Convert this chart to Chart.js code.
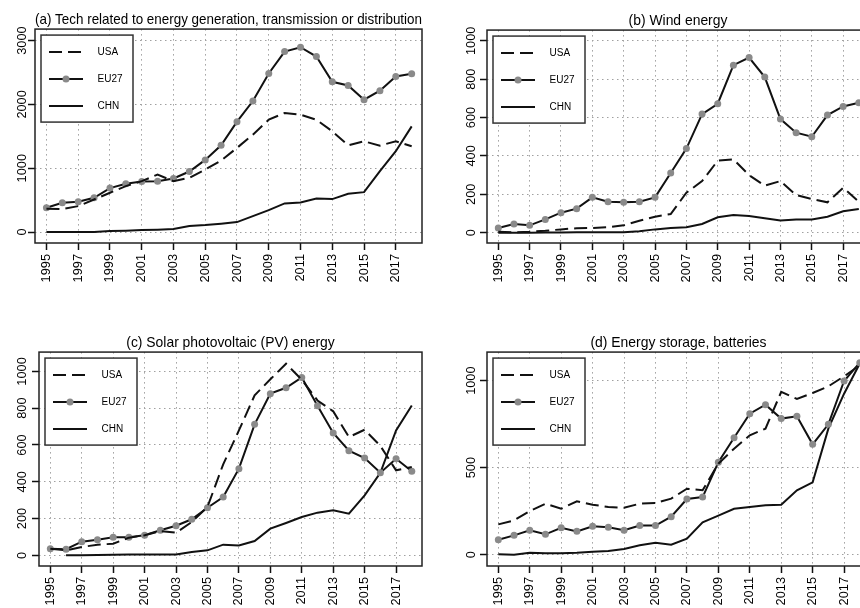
<!DOCTYPE html>
<html>
<head>
<meta charset="utf-8">
<script src="https://cdn.jsdelivr.net/npm/chart.js@4.4.1/dist/chart.umd.min.js"></script>
<style>
  html, body { margin: 0; padding: 0; background: #fff; width: 860px; height: 608px; overflow: hidden; }
  .panel { position: absolute; }
</style>
</head>
<body>
<div class="panel" style="left:0;top:0"><canvas id="panelA" width="430" height="300"></canvas></div>
<div class="panel" style="left:430px;top:0"><canvas id="panelB" width="450" height="300"></canvas></div>
<div class="panel" style="left:0;top:300px"><canvas id="panelC" width="430" height="308"></canvas></div>
<div class="panel" style="left:430px;top:300px"><canvas id="panelD" width="450" height="308"></canvas></div>
<script>
// Patent counts per year, 1995-2018
const years = [1995, 1996, 1997, 1998, 1999, 2000, 2001, 2002, 2003, 2004, 2005, 2006,
               2007, 2008, 2009, 2010, 2011, 2012, 2013, 2014, 2015, 2016, 2017, 2018];
const yearTicks = [1995, 1997, 1999, 2001, 2003, 2005, 2007, 2009, 2011, 2013, 2015, 2017];
const seriesNames = ['USA', 'EU27', 'CHN'];

// (a) Tech related to energy generation, transmission or distribution
const genUSA  = [365, 360, 406, 510, 615, 719, 797, 900, 797, 849, 979, 1120, 1318, 1526, 1760, 1865, 1838, 1760, 1578, 1359, 1422, 1354, 1422, 1344];
const genEU27 = [380, 458, 474, 536, 688, 755, 792, 797, 839, 948, 1130, 1359, 1729, 2052, 2484, 2828, 2896, 2750, 2354, 2297, 2073, 2214, 2438, 2479];
const genCHN  = [0, 0, 0, 0, 15, 20, 30, 36, 47, 94, 109, 130, 156, 250, 344, 448, 464, 526, 516, 599, 625, 953, 1266, 1656];
const genTicks = [0, 1000, 2000, 3000];

// (b) Wind energy
const windUSA  = [5, 2, 5, 10, 17, 23, 24, 28, 38, 62, 83, 97, 208, 269, 375, 382, 300, 245, 269, 196, 175, 158, 234, 161];
const windEU27 = [24, 45, 38, 69, 104, 125, 184, 161, 158, 161, 184, 311, 438, 618, 672, 873, 913, 811, 592, 521, 500, 613, 658, 677];
const windCHN  = [0, 0, 0, 1, 1, 2, 2, 2, 2, 7, 17, 24, 28, 45, 80, 92, 87, 75, 63, 69, 69, 83, 111, 123];
const windTicks = [0, 200, 400, 600, 800, 1000];

// (c) Solar photovoltaic (PV) energy
const pvUSA  = [36, 27, 45, 58, 63, 96, 109, 132, 123, 181, 263, 495, 679, 870, 957, 1042, 955, 842, 783, 643, 683, 595, 462, 480];
const pvEU27 = [36, 33, 74, 85, 98, 98, 109, 136, 161, 196, 259, 317, 471, 712, 879, 911, 967, 813, 665, 569, 529, 449, 525, 457];
const pvCHN  = [null, 0, 1, 2, 3, 4, 5, 5, 5, 18, 27, 58, 53, 78, 145, 176, 208, 232, 245, 226, 326, 449, 679, 815];
const pvTicks = [0, 200, 400, 600, 800, 1000];

// (d) Energy storage, batteries
const batUSA  = [174, 197, 251, 293, 264, 307, 287, 274, 270, 293, 297, 322, 379, 370, 523, 609, 686, 724, 935, 895, 929, 967, 1025, 1088];
const batEU27 = [86, 111, 140, 117, 155, 134, 163, 157, 140, 167, 167, 218, 320, 331, 531, 672, 810, 862, 782, 795, 634, 749, 998, 1103];
const batCHN  = [2, 0, 11, 8, 8, 11, 17, 21, 33, 54, 69, 57, 92, 186, 224, 264, 274, 284, 287, 370, 416, 724, 925, 1098];
const batTicks = [0, 500, 1000];

const FONT = "'Liberation Sans', Arial, Helvetica, sans-serif";
const X_AXIS_H = 50;

// Plot frame plus boxed key in the upper-left corner of the plotting region
const frameAndKey = {
  id: 'frameAndKey',
  afterDraw(chart) {
    const { ctx, chartArea: a } = chart;
    ctx.save();
    ctx.setLineDash([]);
    ctx.strokeStyle = '#222';
    ctx.lineWidth = 1.5;
    ctx.strokeRect(a.left, a.top, a.right - a.left, a.bottom - a.top);

    const bx = a.left + 6, by = a.top + 6, bw = 92, bh = 87;
    ctx.fillStyle = '#fff';
    ctx.fillRect(bx, by, bw, bh);
    ctx.strokeStyle = '#333';
    ctx.strokeRect(bx, by, bw, bh);

    chart.data.datasets.forEach((ds, i) => {
      const y = by + 17 + i * 27;
      ctx.setLineDash(ds.borderDash || []);
      ctx.strokeStyle = ds.borderColor;
      ctx.lineWidth = ds.borderWidth;
      ctx.beginPath();
      ctx.moveTo(bx + 8, y);
      ctx.lineTo(bx + 42, y);
      ctx.stroke();
      ctx.setLineDash([]);
      if (ds.pointRadius > 0) {
        ctx.fillStyle = ds.pointBackgroundColor;
        ctx.beginPath();
        ctx.arc(bx + 25, y, ds.pointRadius, 0, Math.PI * 2);
        ctx.fill();
      }
      ctx.fillStyle = '#000';
      ctx.font = '10px ' + FONT;
      ctx.textAlign = 'left';
      ctx.textBaseline = 'middle';
      ctx.fillText(ds.label, bx + 56.5, y + 0.5);
    });
    ctx.restore();
  }
};

function toPoints(values) {
  return years.map((yr, i) => ({ x: yr, y: values[i] }));
}

function makePanel(id, title, usa, eu, chn, yMin, yMax, yTicks, g) {
  const canvas = document.getElementById(id);
  const w = canvas.width, h = canvas.height;
  const tickFont = { family: FONT, size: 12.8 };
  return new Chart(canvas, {
    type: 'line',
    data: {
      datasets: [
        { label: seriesNames[0], data: toPoints(usa), borderColor: '#111', borderWidth: 2,
          borderDash: [13, 6], pointRadius: 0, tension: 0 },
        { label: seriesNames[1], data: toPoints(eu), borderColor: '#111', borderWidth: 2,
          pointRadius: 3.5, pointBackgroundColor: '#8a8a8a', pointBorderColor: '#8a8a8a', pointBorderWidth: 0, tension: 0 },
        { label: seriesNames[2], data: toPoints(chn), borderColor: '#111', borderWidth: 2,
          pointRadius: 0, tension: 0, spanGaps: false }
      ]
    },
    options: {
      responsive: false,
      animation: false,
      events: [],
      layout: { padding: { left: 0, right: w - g.right, top: g.top - 9 - 8.3, bottom: h - g.bottom - X_AXIS_H } },
      plugins: {
        legend: { display: false },
        tooltip: { enabled: false },
        title: {
          display: true, text: title, color: '#000', fullSize: false, align: 'center',
          font: { family: FONT, size: 13.9, weight: 'normal', lineHeight: 1.2 },
          padding: { top: 0, bottom: 0.7 }
        }
      },
      scales: {
        x: {
          type: 'linear', min: 1994.28, max: 2018.65,
          afterBuildTicks: s => { s.ticks = yearTicks.map(v => ({ value: v })); },
          afterFit: s => { s.height = X_AXIS_H; },
          ticks: { autoSkip: false, minRotation: 90, maxRotation: 90, padding: 4, color: '#000', font: tickFont,
                   callback: v => String(v) },
          grid: { color: '#a0a0a0', lineWidth: 1, drawTicks: true, tickLength: 7, tickColor: '#111', tickWidth: 1.5 },
          border: { display: false, dash: [1.5, 3.5] }
        },
        y: {
          min: yMin, max: yMax,
          afterBuildTicks: s => { s.ticks = yTicks.map(v => ({ value: v })); },
          afterFit: s => { s.width = g.left; },
          ticks: { minRotation: 90, maxRotation: 90, crossAlign: 'center', padding: g.yPad, color: '#000', font: tickFont,
                   callback: v => String(v) },
          grid: { color: '#a0a0a0', lineWidth: 1, drawTicks: true, tickLength: 7, tickColor: '#111', tickWidth: 1.5 },
          border: { display: false, dash: [1.5, 3.5] }
        }
      }
    },
    plugins: [frameAndKey]
  });
}

makePanel('panelA', '(a) Tech related to energy generation, transmission or distribution',
  genUSA, genEU27, genCHN, -172, 3180, genTicks, { left: 35, right: 422, top: 29, bottom: 243, yPad: -8.7 });
makePanel('panelB', '(b) Wind energy',
  windUSA, windEU27, windCHN, -54, 1056, windTicks, { left: 57, right: 439, top: 30, bottom: 243, yPad: -6.2 });
makePanel('panelC', '(c) Solar photovoltaic (PV) energy',
  pvUSA, pvEU27, pvCHN, -58, 1105, pvTicks, { left: 39, right: 422, top: 52, bottom: 266, yPad: -4.7 });
makePanel('panelD', '(d) Energy storage, batteries',
  batUSA, batEU27, batCHN, -65, 1164, batTicks, { left: 57, right: 440, top: 52, bottom: 266, yPad: -6.2 });
</script>
</body>
</html>
